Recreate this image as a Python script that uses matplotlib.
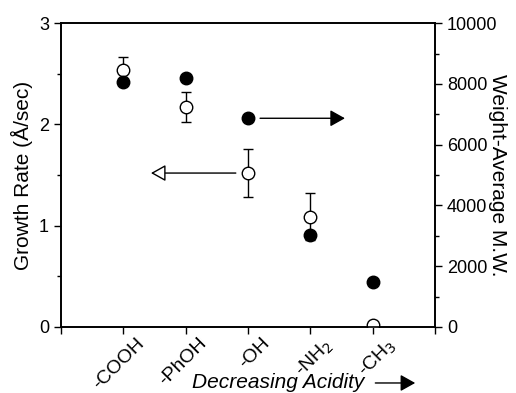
import matplotlib.pyplot as plt
import matplotlib.transforms as mtransforms
from matplotlib.patches import FancyArrowPatch
import numpy as np

plt.rcParams['font.family'] = ['Liberation Sans', 'DejaVu Sans']

groups = ['-COOH', '-PhOH', '-OH', '-NH$_2$', '-CH$_3$']
rate = [2.54, 2.17, 1.52, 1.09, 0.02]
rate_err = [0.13, 0.15, 0.24, 0.23, 0.03]
mw = [8060, 8190, 6870, 3030, 1490]

x = np.arange(1, len(groups) + 1)

fig, ax = plt.subplots(figsize=(5.16, 3.93), dpi=100)
fig.subplots_adjust(left=0.118, right=0.843, top=0.941, bottom=0.168)
ax2 = ax.twinx()

ax.errorbar(x, rate, yerr=rate_err, fmt='o', mfc='white', mec='black', color='black',
            ms=9, mew=1.0, elinewidth=1.0, capsize=3.5, capthick=1.0, zorder=3)
ax2.plot(x, mw, 'o', color='black', ms=9, zorder=3)

ax.set_xlim(0, 6)
ax.set_ylim(0, 3)
ax2.set_ylim(0, 10000)
ax.set_xticks(range(0, 7))
ax.set_xticklabels([])
# rotated category labels, sitting a bit right of their ticks
shift = mtransforms.ScaledTranslation(13 / 100, -8 / 100, fig.dpi_scale_trans)
for xi, g in zip(x, groups):
    ax.text(xi, 0, g, rotation=45, ha='right', va='top', rotation_mode='anchor',
            fontsize=14, transform=ax.get_xaxis_transform() + shift)

ax.set_yticks([0, 1, 2, 3])
ax.set_yticks([0.5, 1.5, 2.5], minor=True)
ax2.set_yticks(range(0, 10001, 2000))
ax2.set_yticks(range(1000, 10000, 2000), minor=True)
for a in (ax, ax2):
    a.tick_params(direction='out', length=5, width=1, labelsize=13)
    a.tick_params(which='minor', direction='out', length=3, width=1)
    for s in a.spines.values():
        s.set_linewidth(1.2)

ax.set_ylabel('Growth Rate (Å/sec)', fontsize=15, va='center')
ax.yaxis.set_label_coords(-0.104, 0.5)
ax2.set_ylabel('Weight-Average M.W.', fontsize=15, rotation=270, va='center')
ax2.yaxis.set_label_coords(1.166, 0.5)

# arrows pointing to each axis
ax.annotate('', xy=(1.4, rate[2]), xytext=(2.85, rate[2]),
            arrowprops=dict(arrowstyle='-|>,head_length=0.5,head_width=0.28',
                            fc='white', ec='black', lw=1, mutation_scale=18))
ax2.annotate('', xy=(4.6, mw[2]), xytext=(3.15, mw[2]),
             arrowprops=dict(arrowstyle='-|>,head_length=0.5,head_width=0.28',
                             fc='black', ec='black', lw=1, mutation_scale=18))

fig.text(0.372, 0.0127, 'Decreasing Acidity', fontsize=15, style='italic',
         ha='left', va='baseline')
fig.patches.append(FancyArrowPatch(
    (0.722, 0.0255), (0.81, 0.0255), transform=fig.transFigure,
    arrowstyle='-|>,head_length=0.5,head_width=0.28', mutation_scale=18,
    color='black', lw=1))

fig.savefig('out.png', dpi=100)
